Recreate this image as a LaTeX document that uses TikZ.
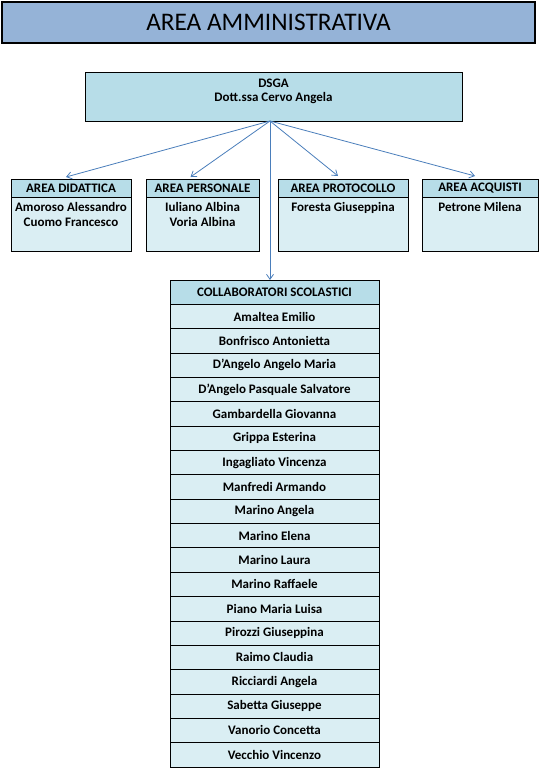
\documentclass[tikz,border=0pt]{standalone}
\usepackage{fontspec}
\setmainfont{Carlito}
\usetikzlibrary{arrows.meta}
\definecolor{titlebg}{HTML}{95B3D7}
\definecolor{headbg}{HTML}{B7DDE8}
\definecolor{bodybg}{HTML}{DAEEF3}
\definecolor{arrowc}{HTML}{4A7EBB}
\tikzset{
  boxbase/.style={draw=black, line width=0.8pt, inner sep=0pt, outer sep=0pt, anchor=north west},
  headbox/.style={boxbase, fill=headbg, font=\fontsize{13}{14}\selectfont\bfseries},
  bodybox/.style={boxbase, fill=bodybg},
  bodytext/.style={font=\fontsize{13}{15.5}\selectfont\bfseries, align=center, anchor=north, inner sep=0pt},
  conn/.style={draw=arrowc, line width=0.8pt, -{Straight Barb[length=5pt,width=7pt]}},
}
\begin{document}
\begin{tikzpicture}[x=1pt,y=1pt]
\useasboundingbox (0,0) rectangle (542,-779);
% title
\node[draw=black, line width=1.6pt, fill=titlebg, minimum width=533pt, minimum height=41pt, inner sep=0pt,
  font=\fontsize{25.3}{27}\selectfont] (title) at (268.5,-22.5) {AREA AMMINISTRATIVA};
% DSGA
\node[boxbase, fill=headbg, minimum width=377pt, minimum height=49pt] (dsga) at (85,-72) {};
\node[bodytext, font=\fontsize{13}{14.5}\selectfont\bfseries] (dsgatext) at (273.5,-78.5) {DSGA\\Dott.ssa Cervo Angela};
\coordinate (src) at (270,-121);
% Area boxes
\node[headbox, minimum width=120pt, minimum height=18pt] (h1) at (11,-179) {AREA DIDATTICA};
\node[bodybox, minimum width=120pt, minimum height=54pt] (b1) at (11,-197) {};
\node[bodytext] (t1) at (b1.north) [yshift=-5pt] {Amoroso Alessandro\\Cuomo Francesco};

\node[headbox, minimum width=113pt, minimum height=18pt] (h2) at (146,-179) {AREA PERSONALE};
\node[bodybox, minimum width=113pt, minimum height=54pt] (b2) at (146,-197) {};
\node[bodytext] (t2) at (b2.north) [yshift=-5pt] {Iuliano Albina\\Voria Albina};

\node[headbox, minimum width=130pt, minimum height=18pt] (h3) at (278,-179) {AREA PROTOCOLLO};
\node[bodybox, minimum width=130pt, minimum height=54pt] (b3) at (278,-197) {};
\node[bodytext] (t3) at (b3.north) [yshift=-5pt] {Foresta Giuseppina};

\node[headbox, minimum width=116pt, minimum height=18pt] (h4) at (422,-179) {AREA ACQUISTI};
\node[bodybox, minimum width=116pt, minimum height=54pt] (b4) at (422,-197) {};
\node[bodytext] (t4) at (b4.north) [yshift=-5pt] {Petrone Milena};

% Collaboratori list
\node[headbox, minimum width=209pt, minimum height=24.35pt] (lh) at (170,-280) {COLLABORATORI SCOLASTICI};
\foreach \name [count=\i] in {Amaltea Emilio, Bonfrisco Antonietta, D’Angelo Angelo Maria, D’Angelo Pasquale Salvatore, Gambardella Giovanna, Grippa Esterina, Ingagliato Vincenza, Manfredi Armando, Marino Angela, Marino Elena, Marino Laura, Marino Raffaele, Piano Maria Luisa, Pirozzi Giuseppina, Raimo Claudia, Ricciardi Angela, Sabetta Giuseppe, Vanorio Concetta, Vecchio Vincenzo}{
  \node[bodybox, minimum width=209pt, minimum height=24.35pt, font=\fontsize{13}{14}\selectfont\bfseries] (r\i) at (170,{-280-24.35*\i}) {\name};
}
% connectors
\draw[conn] (src) -- ([xshift=-5pt,yshift=2pt]h1.north);
\draw[conn] (src) -- ([xshift=-12pt,yshift=2pt]h2.north);
\draw[conn] (src) -- ([xshift=-5pt,yshift=3pt]h3.north);
\draw[conn] (src) -- ([xshift=-5pt,yshift=3pt]h4.north);
\draw[conn] (src) -- (src |- lh.north);
\end{tikzpicture}
\end{document}
